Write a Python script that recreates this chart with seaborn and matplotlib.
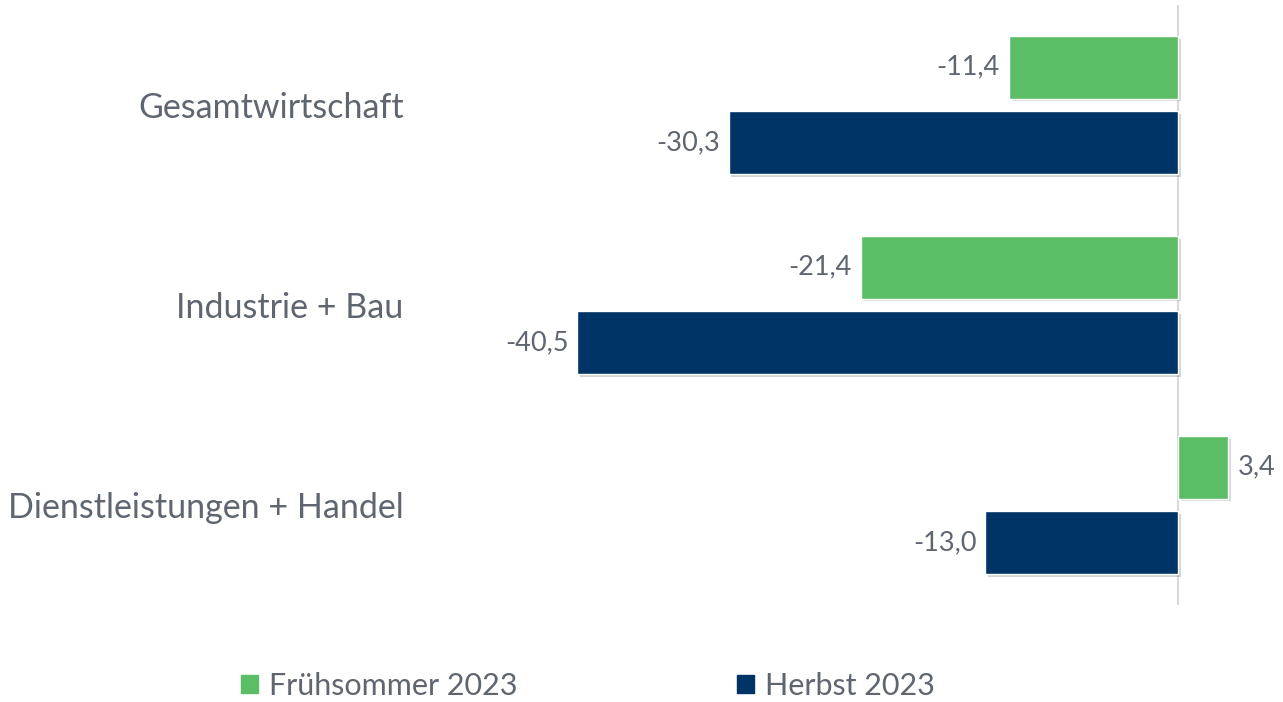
import pandas as pd
import seaborn as sns
import matplotlib.pyplot as plt
import matplotlib.patheffects as pe

categories = ['Gesamtwirtschaft', 'Industrie + Bau', 'Dienstleistungen + Handel']
series = ['Frühsommer 2023', 'Herbst 2023']
fruehsommer = [-11.4, -21.4, 3.4]
herbst = [-30.3, -40.5, -13.0]
colors = ['#5BBD66', '#003366']
text_col = '#5F6670'

df = pd.DataFrame({
    'Bereich': categories * 2,
    'Periode': [series[0]] * 3 + [series[1]] * 3,
    'Wert': fruehsommer + herbst,
})

sns.set_style('white')
plt.rcParams['font.family'] = ['Lato', 'DejaVu Sans']

fig = plt.figure(figsize=(12.83, 7.02), dpi=100)
ax = fig.add_axes([423 / 1283, 1 - 605 / 702, 860 / 1283, 600 / 702])

sns.barplot(data=df, y='Bereich', x='Wert', hue='Periode', order=categories,
            hue_order=series, palette=colors, width=0.755, gap=0.17,
            orient='h', ax=ax, legend=False, saturation=1)

# light drop shadow on the bars
for p in ax.patches:
    p.set_path_effects([pe.SimplePatchShadow(offset=(2, -2), alpha=0.18), pe.Normal()])

ax.set_xlim(-50.9, 7.08)
ax.set_ylim(2.5, -0.5)
ax.axvline(0, color='#D9D9D9', lw=1.5, zorder=0)

for cont in ax.containers:
    for bar in cont:
        w = bar.get_width()
        y = bar.get_y() + bar.get_height() / 2
        lab = f'{w:.1f}'.replace('.', ',')
        if w < 0:
            ax.text(w - 0.6, y, lab, ha='right', va='center', fontsize=19.5,
                    color=text_col)
        else:
            ax.text(w + 0.6, y, lab, ha='left', va='center', fontsize=19.5,
                    color=text_col)

ax.set_xlabel('')
ax.set_ylabel('')
ax.set_xticks([])
ax.tick_params(axis='y', length=0, pad=14, labelsize=24.5, labelcolor=text_col)
sns.despine(ax=ax, left=True, bottom=True)

handles = [plt.Rectangle((0, 0), 1, 1, color=c) for c in colors]
fig.legend(handles, series, loc='center', bbox_to_anchor=(588 / 1283, 1 - 686 / 702),
           ncol=2, frameon=False, handlelength=0.55, handleheight=0.55,
           handletextpad=0.35, columnspacing=7.2,
           labelcolor=text_col, prop={'size': 22})

fig.savefig('out.png', dpi=100)
